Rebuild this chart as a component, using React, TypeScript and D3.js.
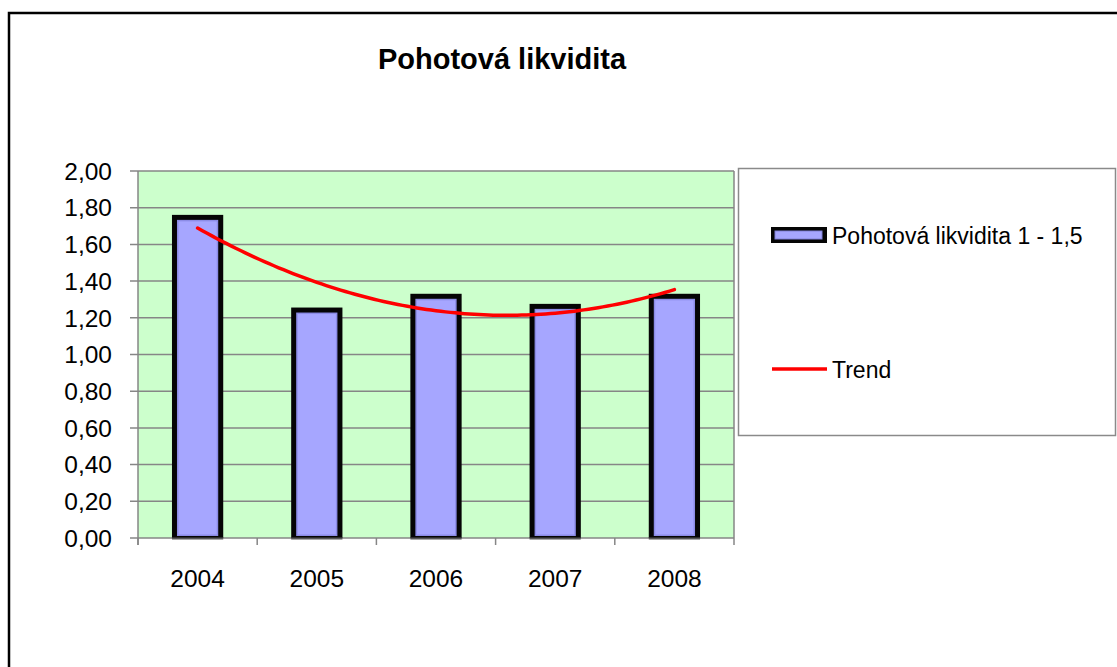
import React from "react";
import * as d3 from "d3";

const years: string[] = ["2004", "2005", "2006", "2007", "2008"];
const values: number[] = [1.75, 1.245, 1.32, 1.265, 1.32];
const yTicks: number[] = [0, 0.2, 0.4, 0.6, 0.8, 1.0, 1.2, 1.4, 1.6, 1.8, 2.0];
const title = "Pohotová likvidita";
const seriesName = "Pohotová likvidita 1 - 1,5";
const trendName = "Trend";

// quadratic least-squares trend (like Excel polynomial trendline, order 2)
function polyFit2(ys: number[]) {
  const n = ys.length;
  const xs = ys.map((_, i) => i + 1);
  let s0 = n, s1 = 0, s2 = 0, s3 = 0, s4 = 0, t0 = 0, t1 = 0, t2 = 0;
  for (let i = 0; i < n; i++) {
    const x = xs[i], y = ys[i];
    s1 += x; s2 += x * x; s3 += x * x * x; s4 += x * x * x * x;
    t0 += y; t1 += x * y; t2 += x * x * y;
  }
  const A = [
    [s0, s1, s2, t0],
    [s1, s2, s3, t1],
    [s2, s3, s4, t2],
  ];
  for (let c = 0; c < 3; c++) {
    for (let r = c + 1; r < 3; r++) {
      const f = A[r][c] / A[c][c];
      for (let k = c; k < 4; k++) A[r][k] -= f * A[c][k];
    }
  }
  const sol = [0, 0, 0];
  for (let r = 2; r >= 0; r--) {
    let s = A[r][3];
    for (let k = r + 1; k < 3; k++) s -= A[r][k] * sol[k];
    sol[r] = s / A[r][r];
  }
  return (x: number) => sol[0] + sol[1] * x + sol[2] * x * x;
}

export default function App() {
  const W = 1117, H = 667;
  const left = 138, right = 734, top = 171, bottom = 538;
  const x = d3.scaleBand<string>().domain(years).range([left, right]).padding(0);
  const y = d3.scaleLinear().domain([0, 2]).range([bottom, top]);
  const bw = x.bandwidth();
  const barW = bw * 0.43;
  const font = "'Liberation Sans', Arial, Helvetica, sans-serif";

  const trend = polyFit2(values);
  const xi = d3.scaleLinear().domain([1, years.length]).range([
    (x(years[0]) as number) + bw / 2,
    (x(years[years.length - 1]) as number) + bw / 2,
  ]);
  const samples = d3.range(0, 101).map((k) => 1 + (k / 100) * (years.length - 1));
  const line = d3
    .line<number>()
    .x((t) => xi(t))
    .y((t) => y(trend(t)))
    .curve(d3.curveLinear);

  const tickBounds = d3.range(0, years.length + 1).map((i) => left + i * bw);

  return (
    <svg
      width={W}
      height={H}
      style={{ position: "absolute", left: 0, top: 0, background: "#ffffff" }}
    >
      <rect x={9} y={13} width={1200} height={800} fill="#ffffff" stroke="#000" strokeWidth={2.5} />
      <text x={502} y={69} textAnchor="middle" fontFamily={font} fontWeight="bold" fontSize={29} fill="#000">
        {title}
      </text>

      {/* plot area */}
      <rect x={left} y={top} width={right - left} height={bottom - top} fill="#ccffcc" />
      {yTicks.map((t) => (
        <line key={"g" + t} x1={130} x2={right} y1={y(t)} y2={y(t)} stroke="#868686" strokeWidth={1.5} />
      ))}
      <line x1={left} x2={left} y1={top} y2={bottom + 7} stroke="#868686" strokeWidth={1.5} />
      <line x1={right} x2={right} y1={top} y2={bottom} stroke="#868686" strokeWidth={1.5} />
      {tickBounds.map((tx, i) => (
        <line key={"xt" + i} x1={tx} x2={tx} y1={bottom} y2={bottom + 7} stroke="#868686" strokeWidth={1.5} />
      ))}
      {yTicks.map((t) => (
        <text
          key={"yl" + t}
          x={112}
          y={y(t) + 8.7}
          textAnchor="end"
          fontFamily={font}
          fontSize={24.5}
          fill="#000"
        >
          {d3.format(".2f")(t).replace(".", ",")}
        </text>
      ))}

      {/* bars */}
      {years.map((yr, i) => {
        const cx = (x(yr) as number) + bw / 2;
        const yt = y(values[i]) - 2;
        const x0 = cx - barW / 2;
        return (
          <g key={yr}>
            <rect x={x0} y={yt} width={barW} height={bottom - yt} fill="#050505" />
            <rect x={x0 + 5} y={yt + 5} width={barW - 10} height={bottom - yt - 7} fill="#8c8ce6" />
            <rect x={x0 + 6.5} y={yt + 6.5} width={barW - 13} height={bottom - yt - 10} fill="#a6a6ff" />
            <line x1={x0} x2={x0 + barW} y1={bottom + 0.5} y2={bottom + 0.5} stroke="#555" strokeWidth={2} />
          </g>
        );
      })}

      {/* trend */}
      <path d={line(samples) || ""} fill="none" stroke="#ff0000" strokeWidth={3.5} strokeLinecap="round" />

      {/* x labels */}
      {years.map((yr) => (
        <text
          key={"xl" + yr}
          x={(x(yr) as number) + bw / 2}
          y={587}
          textAnchor="middle"
          fontFamily={font}
          fontSize={24.5}
          fill="#000"
        >
          {yr}
        </text>
      ))}

      {/* legend */}
      <rect x={738.5} y={168.5} width={377} height={267} fill="#ffffff" stroke="#8a8a8a" strokeWidth={1.5} />
      <rect x={771} y={227} width={56} height={16} fill="#050505" />
      <rect x={775} y={231} width={47} height={8} fill="#a6a6ff" stroke="#8080d8" strokeWidth={1} />
      <text x={832} y={244} fontFamily={font} fontSize={23} fill="#000">
        {seriesName}
      </text>
      <line x1={772} x2={827} y1={369} y2={369} stroke="#ff0000" strokeWidth={3.5} />
      <text x={832} y={378} fontFamily={font} fontSize={23} fill="#000">
        {trendName}
      </text>
    </svg>
  );
}
